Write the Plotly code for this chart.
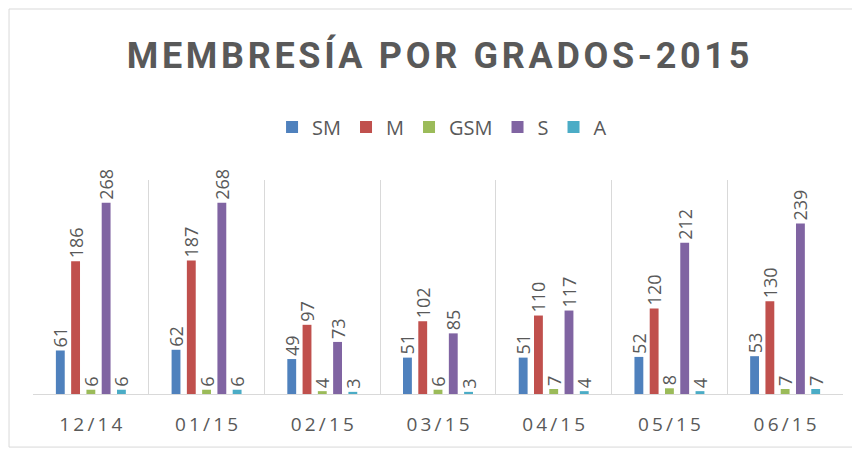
import plotly.graph_objects as go

categories = ["12/14", "01/15", "02/15", "03/15", "04/15", "05/15", "06/15"]
series_names = ["SM", "M", "GSM", "S", "A"]
sm = [61, 62, 49, 51, 51, 52, 53]
m = [186, 187, 97, 102, 110, 120, 130]
gsm = [6, 6, 4, 6, 7, 8, 7]
s = [268, 268, 73, 85, 117, 212, 239]
a = [6, 6, 3, 3, 4, 4, 7]

colors = ["#4F81BD", "#C0504D", "#9BBB59", "#8064A2", "#4BACC6"]
GRAY = "#595959"
FONT = "Open Sans"
TITLE_FONT = "Roboto"


def spaced(text, sep="\u2009"):
    return sep.join(text)


fig = go.Figure()
for name, values, color in zip(series_names, [sm, m, gsm, s, a], colors):
    fig.add_bar(
        x=categories,
        y=values,
        name=name,
        marker=dict(color=color, line=dict(width=0)),
        text=[str(v) for v in values],
        textposition="outside",
        textangle=-90,
        constraintext="none",
        cliponaxis=False,
        textfont=dict(family=FONT, size=18, color=GRAY),
    )

# the page adds an 8px body margin, so margins are shifted to compensate
fig.update_layout(
    width=860,
    height=451,
    paper_bgcolor="white",
    plot_bgcolor="white",
    margin=dict(l=25, r=25, t=172, b=65),
    barmode="group",
    bargap=0.34,
    bargroupgap=0.42,
    title=dict(
        text="<b>" + spaced("MEMBRESÍA POR GRADOS-2015", "\u200a") + "</b>",
        x=0.5,
        xanchor="center",
        y=1 - 47 / 451,
        yanchor="middle",
        font=dict(family=TITLE_FONT, size=36, color=GRAY),
    ),
    legend=dict(
        orientation="h",
        x=0.505,
        xanchor="center",
        y=1.248,
        yanchor="middle",
        font=dict(family=FONT, size=20, color=GRAY),
        itemwidth=30,
        traceorder="normal",
    ),
    showlegend=True,
)

fig.update_xaxes(
    automargin=False,
    tickmode="array",
    tickvals=categories,
    ticktext=[spaced(c) for c in categories],
    tickson="boundaries",
    showgrid=True,
    gridcolor="#D9D9D9",
    gridwidth=1,
    showline=True,
    linecolor="#D9D9D9",
    linewidth=1,
    ticks="",
    ticklabelstandoff=13,
    tickfont=dict(family=FONT, size=19, color=GRAY),
)
fig.update_yaxes(
    automargin=False,
    range=[0, 300],
    showticklabels=False,
    showgrid=False,
    zeroline=False,
    showline=False,
)

fig.add_shape(
    type="rect",
    xref="paper",
    yref="paper",
    x0=-0.0296,
    x1=1.0148,
    y0=-0.248,
    y1=1.799,
    line=dict(color="#D9D9D9", width=1),
    layer="below",
)

fig.write_html("out.html")
